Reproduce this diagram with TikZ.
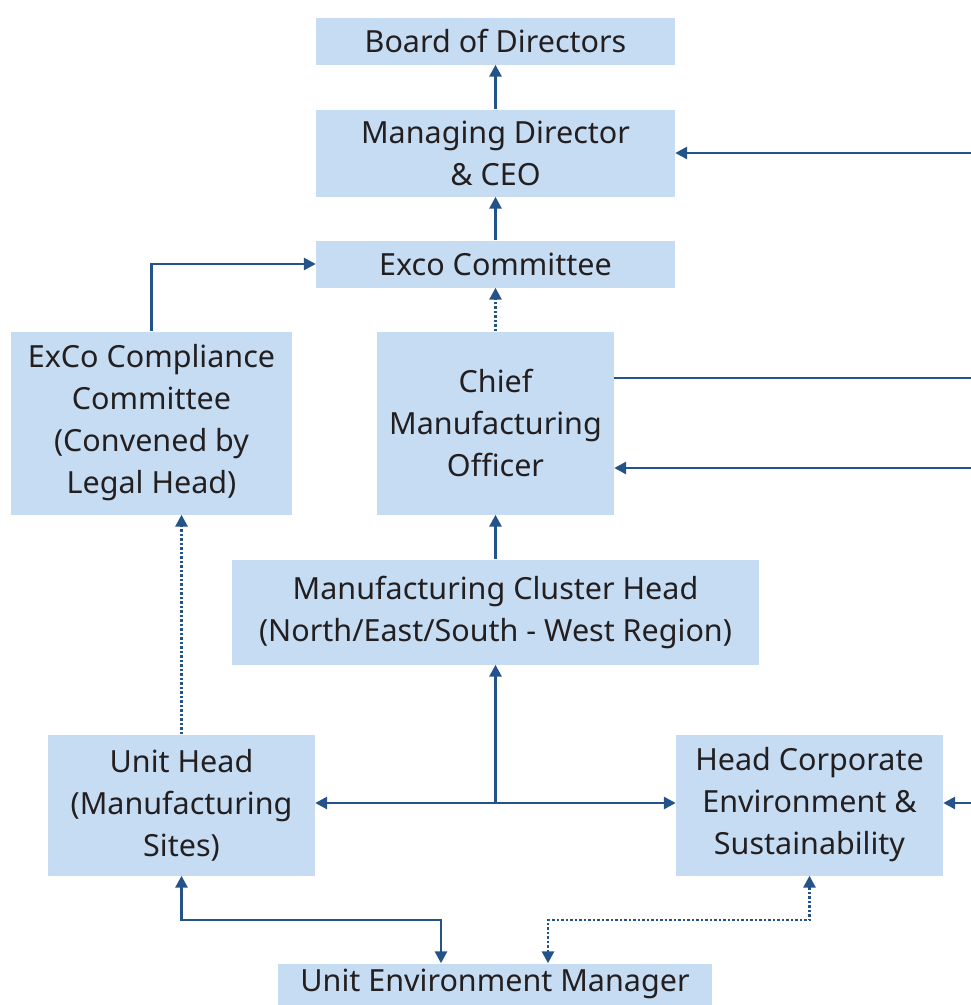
\documentclass[tikz,border=0pt]{standalone}
\usepackage{fontspec}
\setmainfont{Noto Sans}
\usetikzlibrary{arrows.meta,calc}
\definecolor{boxfill}{HTML}{C6DCF2}
\definecolor{linec}{HTML}{24538A}
\definecolor{txt}{HTML}{231F20}
\begin{document}
\begin{tikzpicture}[x=1pt,y=-1pt,
  box/.style={fill=boxfill,draw=none,inner sep=0pt,align=center,text=txt,
    font=\fontsize{30.5}{42}\selectfont},
  conn/.style={draw=linec,line width=2.8pt},
  arr/.style={conn,-{Triangle[length=12pt,width=12pt]}},
  arrb/.style={conn,{Triangle[length=12pt,width=12pt]}-{Triangle[length=12pt,width=12pt]}},
  dots/.style={dash pattern=on 2.5pt off 2pt}
]
\useasboundingbox (0,0) rectangle (971,1005);
\node[box,minimum width=359pt,minimum height=47pt] (bod) at (495.5,41) {Board of Directors};
\node[box,minimum width=359pt,minimum height=87pt] (md) at (495.5,153) {Managing Director\\\& CEO};
\node[box,minimum width=359pt,minimum height=47pt] (exco) at (495.5,264) {Exco Committee};
\node[box,minimum width=281pt,minimum height=183pt] (comp) at (151.5,423) {ExCo Compliance\\Committee\\(Convened by\\Legal Head)};
\node[box,minimum width=237pt,minimum height=183pt] (cmo) at (495.5,423) {Chief\\Manufacturing\\Officer};
\node[box,minimum width=527pt,minimum height=105pt] (clu) at (495.5,612) {Manufacturing Cluster Head\\(North/East/South - West Region)};
\node[box,minimum width=267pt,minimum height=141pt] (uh) at (181.5,805) {Unit Head\\(Manufacturing\\Sites)};
\node[box,minimum width=267pt,minimum height=141pt] (hce) at (809.5,805) {Head Corporate\\Environment \&\\Sustainability};
\node[box,minimum width=434pt,minimum height=41pt] (uem) at (495,984) {Unit Environment Manager};

\coordinate (rmd) at (971,153);
\coordinate (r1) at (971,378);
\coordinate (r2) at (971,468);
\coordinate (r3) at (971,803);
\coordinate (j) at (495.5,803);
\coordinate (k1) at (441,920);
\coordinate (k2) at (548,920);

\draw[arr] (md.north) -- (bod.south);
\draw[arr] (exco.north) -- (md.south);
\draw[arr,dots] (cmo.north) -- (exco.south);
\draw[arr] (comp.north) |- (exco.west);
\draw[arr] (rmd) -- (rmd -| md.east);
\draw[conn] (cmo.east |- r1) -- (r1);
\draw[arr] (r2) -- (r2 -| cmo.east);
\draw[arr] (r3) -- (r3 -| hce.east);
\draw[arr] (clu.north) -- (cmo.south);
\draw[arr,dots] (uh.north) -- (uh.north |- comp.south);
\draw[arr] (j) -- (clu.south);
\draw[arr] (j) -- (j -| uh.east);
\draw[arr] (j) -- (j -| hce.west);
\draw[arrb] (uh.south) |- (k1) -- (k1 |- uem.north);
\draw[arrb,dots] (k2 |- uem.north) -- (k2) -| (hce.south);
\end{tikzpicture}
\end{document}
